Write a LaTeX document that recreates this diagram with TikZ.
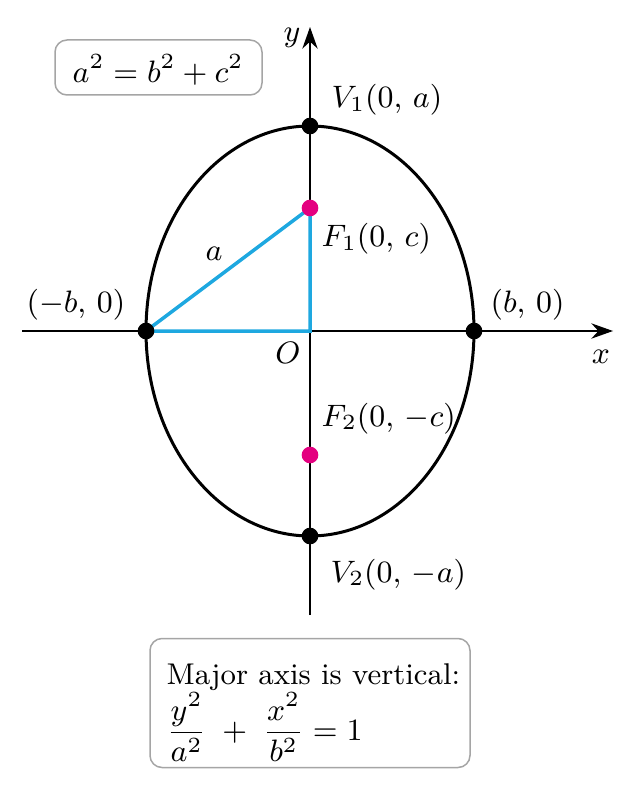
\RequirePackage{fix-cm}
\documentclass[tikz,border=0pt]{standalone}
\usepackage{amsmath}
\usetikzlibrary{arrows.meta,backgrounds}
\definecolor{cyanline}{RGB}{30,168,224}
\definecolor{focusmag}{RGB}{228,0,128}
\definecolor{boxgray}{RGB}{165,165,165}
\begin{document}
\begin{tikzpicture}[x=0.3pt,y=-0.3pt,
  every node/.style={font=\fontsize{9.3}{11.2}\selectfont, inner sep=0pt},
  axisline/.style={line width=0.5pt, -{Stealth[length=6.5pt,width=4.6pt]}},
  curve/.style={line width=0.9pt},
  legline/.style={line width=1.05pt, draw=cyanline},
  vdot/.style={circle, fill=black, minimum size=5pt, inner sep=0pt},
  fdot/.style={circle, fill=focusmag, minimum size=5pt, inner sep=0pt},
  infobox/.style={draw=boxgray, line width=0.45pt, rounded corners=3.6pt, fill=white},
  lbl/.style={anchor=base west}
]
\useasboundingbox (0,0) rectangle (636,794);
% coordinates
\coordinate (O) at (310,331);
\coordinate (xs) at (22,331);
\coordinate (xe) at (613,331);
\coordinate (ys) at (310,615);
\coordinate (ye) at (310,27);
% dots
\node[vdot] (V1) at (310,126) {};
\node[vdot] (V2) at (310,536) {};
\node[vdot] (L) at (146,331) {};
\node[vdot] (R) at (474,331) {};
\node[fdot] (F1) at (310,208) {};
\node[fdot] (F2) at (310,455) {};
\begin{scope}[on background layer]
  \draw[axisline] (xs) -- (xe);
  \draw[axisline] (ys) -- (ye);
  \draw[curve] (O) ellipse [x radius=49.2pt, y radius=61.5pt];
  \draw[legline] (L.center) -- (F1.center) -- (O) -- cycle;
\end{scope}
% labels
\node (ylab) at (292,38) {$y$};
\node (xlab) at (601,357) {$x$};
\node (Olab) at (288,353) {$O$};
\node (alab) at (214,254) {$a$};
\node[lbl] (V1lab) at (331,108) {$V_1(0,\,a)$};
\node[lbl] (F1lab) at (321,247) {$F_1(0,\,c)$};
\node[lbl] (Llab) at (26,313) {$(-b,\,0)$};
\node[lbl] (Rlab) at (490,313) {$(b,\,0)$};
\node[lbl] (F2lab) at (321,426) {$F_2(0,\,-c)$};
\node[lbl] (V2lab) at (330,582) {$V_2(0,\,-a)$};
% boxes
\node[infobox, minimum width=62.1pt, minimum height=16.5pt] (box1) at (158.5,67.5) {};
\node (eq1) at (158,70) {$a^2 = b^2 + c^2$};
\node[infobox, minimum width=96pt, minimum height=38.7pt] (box2) at (310,703) {};
\node[anchor=base west, font=\fontsize{9}{11}\selectfont] (maj) at (166,684) {Major axis is vertical:};
\node[anchor=west] (eq2) at (166,727) {$\dfrac{y^2}{a^2} \;+\; \dfrac{x^2}{b^2} = 1$};
\end{tikzpicture}
\end{document}
